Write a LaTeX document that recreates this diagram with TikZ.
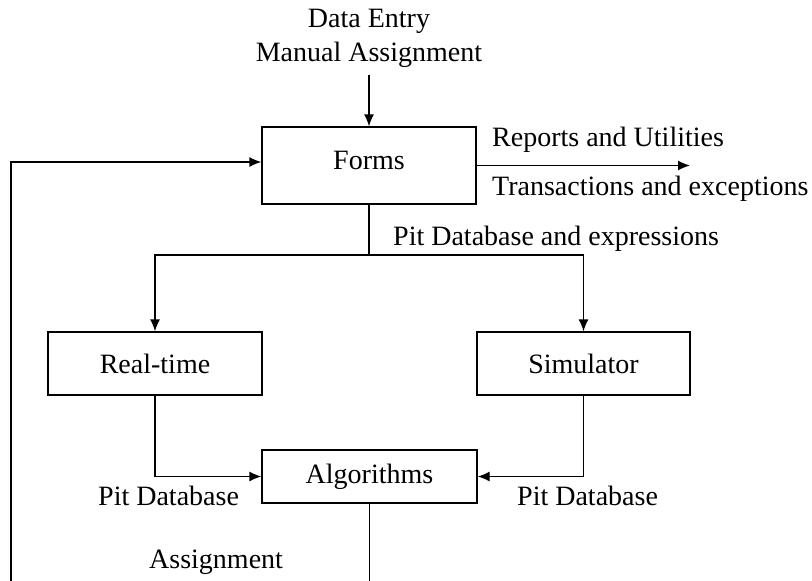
\documentclass[tikz,border=0pt]{standalone}
\usepackage{fontspec}
\setmainfont{Liberation Serif}
\usetikzlibrary{arrows.meta}

\tikzset{
  flowbox/.style={draw, line width=1.3pt, inner sep=0pt, minimum width=214pt,
    font=\fontsize{28}{33}\selectfont},
  lbl/.style={inner sep=0pt, font=\fontsize{28}{33}\selectfont},
  conn/.style={line width=1.3pt},
  arr/.style={conn, -{Latex[length=12pt,width=10pt]}}
}

\begin{document}
\begin{tikzpicture}[x=1pt, y=-1pt]
  \useasboundingbox (0,0) rectangle (812,581);

  % main blocks
  \node[flowbox, minimum height=77pt] (forms) at (369,165.5) {\raisebox{-4pt}[0pt][0pt]{Forms}};
  \node[flowbox, minimum height=63pt] (realtime) at (155,363.5) {Real-time};
  \node[flowbox, minimum height=63pt, minimum width=213pt] (sim) at (583.5,363.5) {Simulator};
  \node[flowbox, minimum height=53pt, minimum width=215pt] (algo) at (369.5,476.5) {Algorithms};

  % free ends of connectors
  \coordinate (topin) at (369,75);
  \coordinate (outend) at (690,165.5);
  \coordinate (split) at (369,255);
  \coordinate (loopbot) at (11,581);
  \coordinate (algobot) at (369.5,581);

  % labels
  \node[lbl, anchor=base] (de) at (369,27) {Data Entry};
  \node[lbl, anchor=base] (ma) at (369,61) {Manual Assignment};
  \node[lbl, anchor=base west] (ru) at (492,146) {Reports and Utilities};
  \node[lbl, anchor=base west] (te) at (492,195) {Transactions and exceptions};
  \node[lbl, anchor=base west] (pde) at (393,245) {Pit Database and expressions};
  \node[lbl, anchor=base west] (pdl) at (98,505) {Pit Database};
  \node[lbl, anchor=base west] (pdr) at (517,505) {Pit Database};
  \node[lbl, anchor=base west] (asg) at (149,568) {Assignment};

  % connectors
  \draw[arr] (topin) -- (forms.north);
  \draw[arr] (forms.east) -- (outend);
  \draw[arr] (loopbot) |- ([yshift=3.5pt]forms.west);
  \draw[conn] (forms.south) -- (split);
  \draw[arr] (split) -| (realtime.north);
  \draw[arr] (split) -| (sim.north);
  \draw[arr] (realtime.south) |- (algo.west);
  \draw[arr] (sim.south) |- (algo.east);
  \draw[conn] (algo.south) -- (algobot);
\end{tikzpicture}
\end{document}
